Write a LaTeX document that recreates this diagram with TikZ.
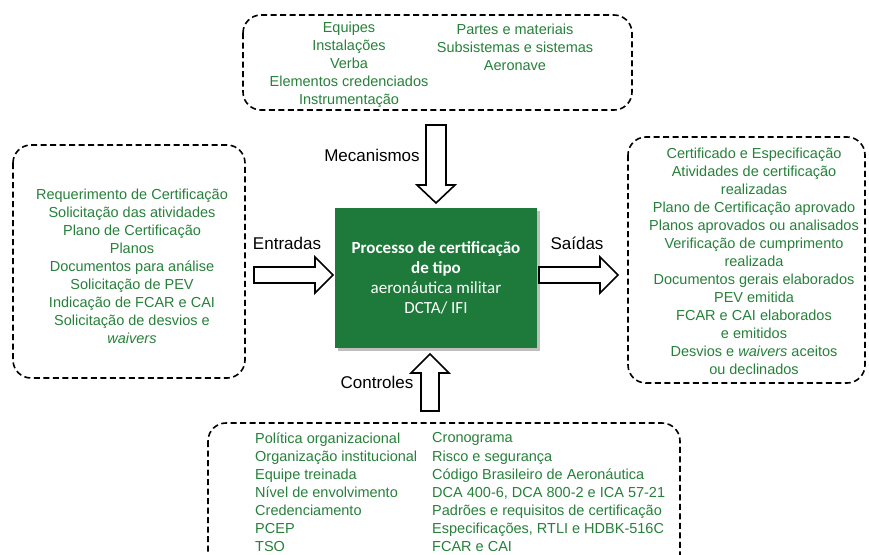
\documentclass[tikz,border=0pt]{standalone}
\usepackage{fontspec}
\setmainfont{Liberation Sans}
\newfontfamily\calibri{Carlito}
\usepackage{tikz}
\usetikzlibrary{positioning}
\usepackage{xcolor}
\definecolor{procgreen}{RGB}{30,122,58}
\definecolor{itemgreen}{RGB}{38,128,58}

\tikzset{
  dashbox/.style={draw, line width=1.6pt, rounded corners=18pt, dash pattern=on 6pt off 3.5pt},
  items/.style={text=itemgreen, font=\fontsize{14.5}{18}\selectfont, inner sep=0pt},
  flowlabel/.style={font=\fontsize{17}{20}\selectfont, inner sep=0pt},
  blockarrow/.style={draw, line width=1.6pt, fill=white, line join=miter},
}

\begin{document}
\begin{tikzpicture}[x=1pt,y=-1pt]
\useasboundingbox (0,0) rectangle (869,554);
% dashed boxes
\draw[dashbox] (243,15) rectangle (632,110);
\draw[dashbox] (13,145) rectangle (245,378);
\draw[dashbox] (628,137) rectangle (865,383);
\draw[dashbox] (208,423) rectangle (680,575);
% central process
\fill[black!25] (338,211) rectangle (540,351);
\node[fill=procgreen, minimum width=202pt, minimum height=140pt, inner sep=0pt] (proc) at (436,278) {};
\node[text=white, align=center, font=\calibri\fontsize{17}{20}\selectfont] (proctext) at (proc.center)
  {\textbf{Processo de certificação}\\\textbf{de tipo}\\aeronáutica militar\\DCTA/ IFI};
% block arrows
\draw[blockarrow] (426,125)--(446,125)--(446,185)--(455,185)--(436,203)--(417,185)--(426,185)--cycle;
\draw[blockarrow] (421,411)--(439,411)--(439,373)--(449,373)--(430,354)--(411,373)--(421,373)--cycle;
\draw[blockarrow] (254,267)--(315,267)--(315,257)--(333,275)--(315,293)--(315,283)--(254,283)--cycle;
\draw[blockarrow] (539,267)--(600,267)--(600,257)--(618,275)--(600,293)--(600,283)--(539,283)--cycle;
% arrow labels
\node[flowlabel] (mechlabel) at (372,155) {Mecanismos};
\node[flowlabel] (inlabel) at (287,243) {Entradas};
\node[flowlabel] (outlabel) at (577,243) {Saídas};
\node[flowlabel] (ctrllabel) at (377,382) {Controles};
% mechanisms
\node[items, align=center] (mechleft) at (349,65)
  {Equipes\\Instalações\\Verba\\Elementos credenciados\\Instrumentação};
\node[items, align=center] (mechright) at (515,47)
  {Partes e materiais\\Subsistemas e sistemas\\Aeronave};
% inputs
\node[items, align=center] (inputs) at (132,266)
  {Requerimento de Certificação\\Solicitação das atividades\\Plano de Certificação\\Planos\\Documentos para análise\\Solicitação de PEV\\Indicação de FCAR e CAI\\Solicitação de desvios e\\\textit{waivers}};
% outputs
\node[items, align=center] (outputs) at (754,261)
  {Certificado e Especificação\\Atividades de certificação\\realizadas\\Plano de Certificação aprovado\\Planos aprovados ou analisados\\Verificação de cumprimento\\realizada\\Documentos gerais elaborados\\PEV emitida\\FCAR e CAI elaborados\\e emitidos\\Desvios e \textit{waivers} aceitos\\ou declinados};
% controls
\node[items, align=left, anchor=west] (ctrlleft) at (255,492)
  {Política organizacional\\Organização institucional\\Equipe treinada\\Nível de envolvimento\\Credenciamento\\PCEP\\TSO};
\node[items, align=left, anchor=west] (ctrlright) at (432,492)
  {Cronograma\\Risco e segurança\\Código Brasileiro de Aeronáutica\\DCA 400-6, DCA 800-2 e ICA 57-21\\Padrões e requisitos de certificação\\Especificações, RTLI e HDBK-516C\\FCAR e CAI};
\end{tikzpicture}
\end{document}
